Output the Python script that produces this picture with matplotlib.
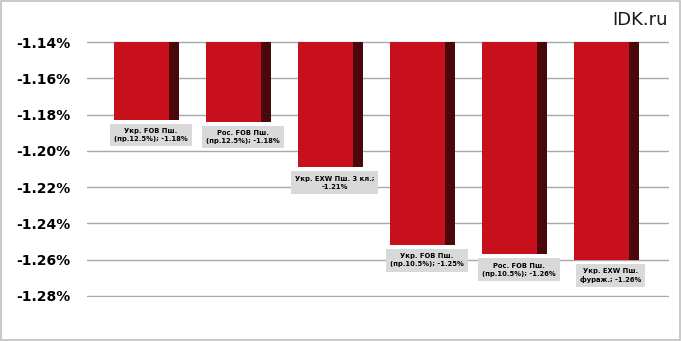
import matplotlib
matplotlib.use("Agg")
import matplotlib.pyplot as plt
import matplotlib.ticker as ticker
from matplotlib.patches import Rectangle

# values in %
categories = ["Укр. FOB Пш.\n(пр.12.5%)", "Рос. FOB Пш.\n(пр.12.5%)", "Укр. EXW Пш. 3 кл.",
              "Укр. FOB Пш.\n(пр.10.5%)", "Рос. FOB Пш.\n(пр.10.5%)", "Укр. EXW Пш.\nфураж."]
values = [-1.183, -1.184, -1.209, -1.252, -1.257, -1.260]
value_labels = ["-1.18%", "-1.18%", "-1.21%", "-1.25%", "-1.26%", "-1.26%"]
label_texts = ["Укр. FOB Пш.\n(пр.12.5%); -1.18%", "Рос. FOB Пш.\n(пр.12.5%); -1.18%",
               "Укр. EXW Пш. 3 кл.;\n-1.21%", "Укр. FOB Пш.\n(пр.10.5%); -1.25%",
               "Рос. FOB Пш.\n(пр.10.5%); -1.26%", "Укр. EXW Пш.\nфураж.; -1.26%"]
y_ticks = [-1.14, -1.16, -1.18, -1.20, -1.22, -1.24, -1.26, -1.28]

base = -1.14
front_color = "#c8101c"
side_color = "#4a070c"

fig = plt.figure(figsize=(6.81, 3.41), dpi=100)
ax = fig.add_axes([87/681, 44/341, 582/681, 256/341])

front_w = 0.6
side_w = 0.11
xs = list(range(len(values)))
for x, v in zip(xs, values):
    ax.bar(x, v - base, bottom=base, width=front_w, color=front_color, zorder=3)
    ax.bar(x + front_w/2 + side_w/2, v - base, bottom=base, width=side_w, color=side_color, zorder=3)

for x, v, txt in zip(xs, values, label_texts):
    ax.annotate(txt, xy=(x + side_w/2, v), xytext=(3, -6), textcoords="offset points",
                ha="center", va="top", fontsize=4.9, fontweight="bold", linespacing=1.4,
                bbox=dict(facecolor="#d9d9d9", edgecolor="none", boxstyle="square,pad=0.6"),
                zorder=5, annotation_clip=False)

ax.set_xlim(-0.592, 5.735)
ax.set_ylim(-1.2806, -1.1394)
ax.set_yticks(y_ticks)
ax.yaxis.set_major_formatter(ticker.FuncFormatter(lambda y, p: "{0:.2f}%".format(y)))
ax.set_xticks([])
ax.tick_params(axis="y", length=0, pad=12)
for lbl in ax.get_yticklabels():
    lbl.set_fontweight("bold")
    lbl.set_fontsize(10)
ax.grid(axis="y", color="#a8a8a8", linewidth=1.0, zorder=0)
ax.set_axisbelow(True)
for s in ax.spines.values():
    s.set_visible(False)

fig.text(668/681, 1 - 20/341, "IDK.ru", ha="right", va="center", fontsize=13, color="#1a1a1a")
fig.patches.append(Rectangle((0.001, 0.002), 0.997, 0.995, transform=fig.transFigure,
                             fill=False, edgecolor="#c0c0c0", linewidth=1.2))

fig.savefig("out.png", dpi=100)
